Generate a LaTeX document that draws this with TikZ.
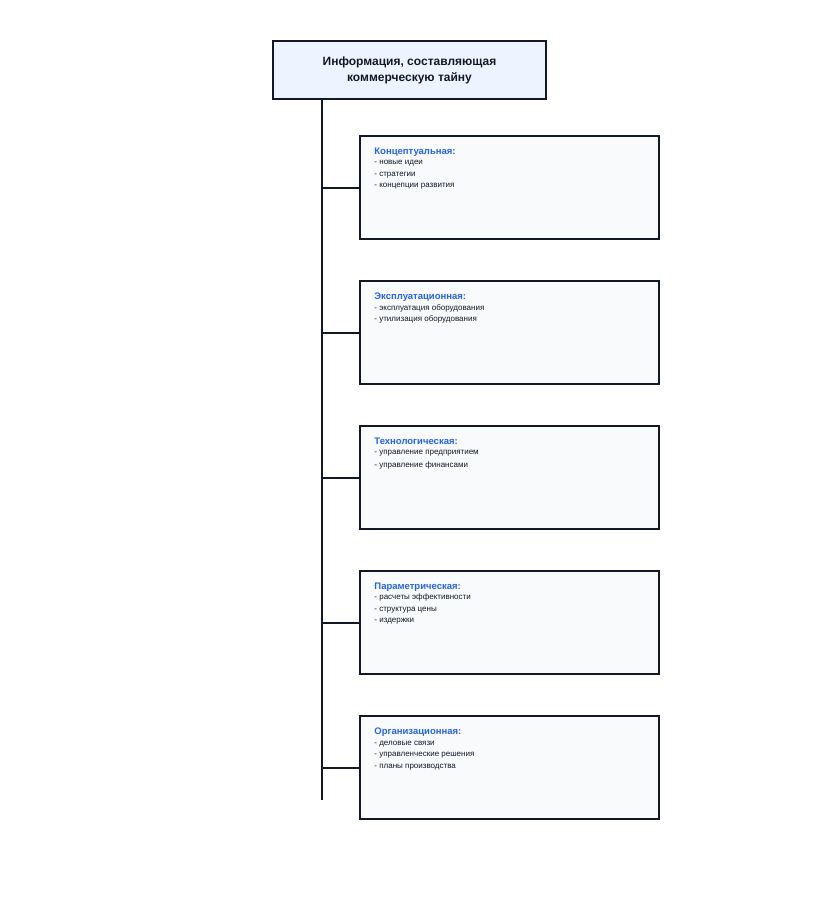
\documentclass[tikz,border=0pt]{standalone}
\usepackage{fontspec}
\setmainfont{Liberation Sans}
\usetikzlibrary{positioning}
\definecolor{navy}{HTML}{111827}
\definecolor{headblue}{HTML}{2563EB}
\definecolor{topfill}{HTML}{EEF4FF}
\definecolor{boxfill}{HTML}{F8FAFC}
\tikzset{
  topbox/.style={draw=navy,line width=2pt,fill=topfill,minimum width=273pt,
    minimum height=58pt,align=center,text=navy,
    font=\fontsize{12}{16}\selectfont\bfseries},
  kindbox/.style={draw=navy,line width=1.5pt,fill=boxfill,
    minimum width=299pt,minimum height=103pt},
  kindtext/.style={anchor=north west,align=left,inner sep=0pt,text=navy,
    font=\fontsize{8}{11.5}\selectfont},
  link/.style={draw=navy,line width=2pt},
}
\newcommand{\kindhead}[1]{{\color{headblue}\bfseries\fontsize{9.5}{11.5}\selectfont #1}}
\begin{document}
\begin{tikzpicture}[x=1pt,y=-1pt]
  \useasboundingbox (0,0) rectangle (819,924);
  % top
  \node[topbox] (top) at (409.5,70) {Информация, составляющая\\коммерческую тайну};
  \coordinate (trunkend) at (322,800);
  \draw[link] (top.south -| trunkend) -- (trunkend);
  % kinds
  \node[kindbox] (concept) at (509.5,187.5) {};
  \node[kindbox] (exploit) at (509.5,332.5) {};
  \node[kindbox] (techno) at (509.5,477.5) {};
  \node[kindbox] (param) at (509.5,622.5) {};
  \node[kindbox] (organ) at (509.5,767.5) {};
  \node[kindtext] (concepttext) at ([shift={(15pt,-12.5pt)}]concept.north west)
    {\kindhead{Концептуальная:}\\[-1pt]- новые идеи\\- стратегии\\- концепции развития};
  \node[kindtext] (exploittext) at ([shift={(15pt,-12.5pt)}]exploit.north west)
    {\kindhead{Эксплуатационная:}\\[-1pt]- эксплуатация оборудования\\- утилизация оборудования};
  \node[kindtext] (technotext) at ([shift={(15pt,-12.5pt)}]techno.north west)
    {\kindhead{Технологическая:}\\[-1pt]- управление предприятием\\[1.5pt]- управление финансами};
  \node[kindtext] (paramtext) at ([shift={(15pt,-12.5pt)}]param.north west)
    {\kindhead{Параметрическая:}\\[-1pt]- расчеты эффективности\\- структура цены\\- издержки};
  \node[kindtext] (organtext) at ([shift={(15pt,-12.5pt)}]organ.north west)
    {\kindhead{Организационная:}\\[-1pt]- деловые связи\\- управленческие решения\\- планы производства};
  \foreach \k in {concept,exploit,techno,param,organ}
    \draw[link] (\k.west -| trunkend) -- (\k.west);
\end{tikzpicture}
\end{document}
